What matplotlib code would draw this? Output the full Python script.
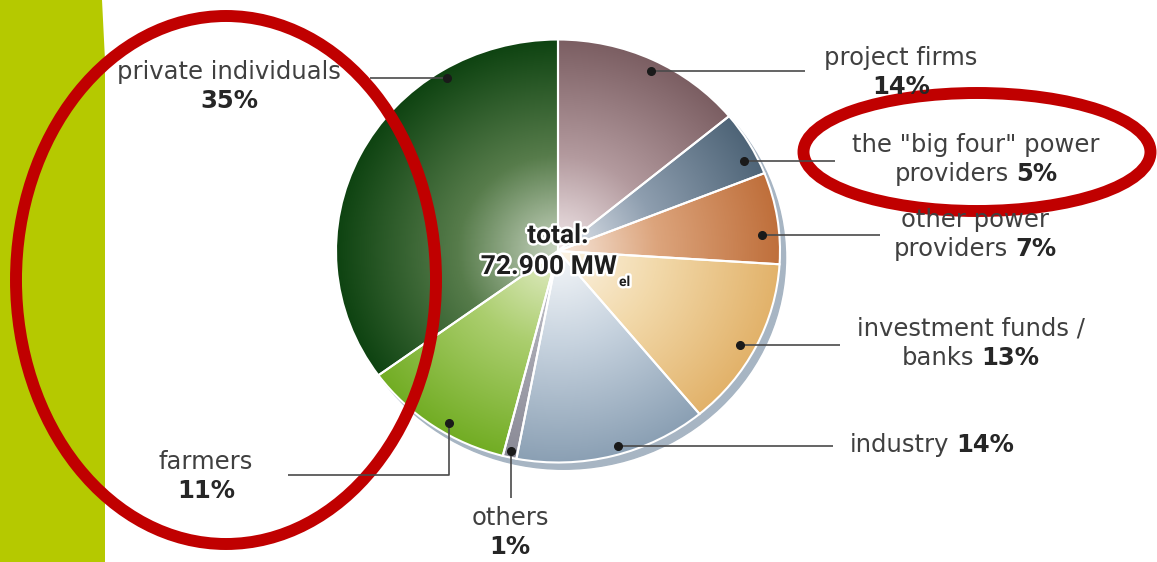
import numpy as np
import matplotlib
matplotlib.use('Agg')
import matplotlib.pyplot as plt
from matplotlib.colors import LinearSegmentedColormap
from matplotlib.patches import Ellipse
import matplotlib.patheffects as pe

plt.rcParams['font.family'] = ['DejaVu Sans']

# data
names = ['project firms', 'the "big four" power\nproviders', 'other power\nproviders',
         'investment funds /\nbanks', 'industry', 'others', 'farmers', 'private individuals']
shares = [14, 5, 7, 13, 14, 1, 11, 35]
pct_own_row = [True, False, False, False, False, True, True, True]
total_text = '72.900 MW'

# gradient colours per slice: centre, middle, rim
grad = [
    ['#f2e8ea', '#b39a9e', '#7b5e62'],
    ['#e6eaf0', '#8e9eaf', '#4e6477'],
    ['#f7e8dc', '#dca47c', '#bf6f3b'],
    ['#fcf4e6', '#f2d9aa', '#e2b26a'],
    ['#f6f8fa', '#c6d2de', '#8ba0b4'],
    ['#d4d4dc', '#a8a8b2', '#8a8a96'],
    ['#e6eecc', '#abce6e', '#72ad24'],
    ['#c8d4c0', '#577c4b', '#0e4311'],
]

fig = plt.figure(figsize=(11.57, 5.62), dpi=100)

# pixel-space axes under and over the pie
ax0 = fig.add_axes([0, 0, 1, 1])
ax0.set_xlim(0, 1157)
ax0.set_ylim(562, 0)
ax0.axis('off')
ax0.fill([0, 102, 105, 105, 0], [0, 0, 60, 562, 562], color='#b5c900', lw=0)

# pie (slightly wider than tall, as in the picture)
W, H = 1157, 562
cx, cy, rx, ry = 558, 251, 222, 211.5
axp = fig.add_axes([(cx - rx) / W, (H - cy - ry) / H, 2 * rx / W, 2 * ry / H])
wedges, _ = axp.pie(shares, startangle=90, counterclock=False, radius=1,
                    wedgeprops=dict(edgecolor='white', linewidth=1.5))
axp.add_patch(Ellipse((0.025, -0.032), 2.0, 2.0, color='#a7b5c3', zorder=0, clip_on=False))

n = 500
xs = np.linspace(-1, 1, n)
X, Y = np.meshgrid(xs, xs)
R = np.sqrt(X ** 2 + Y ** 2)
for w, cols in zip(wedges, grad):
    cmap = LinearSegmentedColormap.from_list('g', [(0, cols[0]), (0.45, cols[1]), (1, cols[2])])
    im = axp.imshow(R, cmap=cmap, vmin=0, vmax=1, extent=(-1, 1, -1, 1), origin='lower',
                    interpolation='bilinear', zorder=1.5)
    im.set_clip_path(w)
    w.set_zorder(2)
    w.set_facecolor('none')
axp.set_aspect('auto')
axp.set_xlim(-1, 1)
axp.set_ylim(-1, 1)
axp.axis('off')

# overlay axes for leaders, labels and marks
ax = fig.add_axes([0, 0, 1, 1])
ax.set_xlim(0, 1157)
ax.set_ylim(562, 0)
ax.axis('off')
ax.patch.set_alpha(0)

# where on each slice the leader dot sits (fraction along the arc, radius)
dot_f = [0.48, 0.3, 0.33, 0.47, 0.54, 0.5, 0.58, 0.25]
dot_r = [0.95, 0.94, 0.92, 0.93, 0.96, 0.97, 0.95, 0.96]
anchors = [(901, 58, 'center'), (976, 145, 'center'), (975, 220, 'center'),
           (971, 329, 'center'), (850, 445, 'left'), (510, 518, 'center'),
           (206, 462, 'center'), (229, 72, 'center')]

fig.canvas.draw()
to_px = lambda p: ax.transData.inverted().transform(axp.transData.transform(p))

FS = 17.5
LC = '#404040'
renderer = fig.canvas.get_renderer()


def text_row(x, y, parts, ha):
    ts = []
    for s, wt in parts:
        ts.append(ax.text(0, y, s, fontsize=FS, fontweight=wt, color=LC if wt == 'normal' else '#262626',
                          va='center', ha='left'))
    gap = 7
    ws = [t.get_window_extent(renderer).width for t in ts]
    tot = sum(ws) + gap * (len(ts) - 1)
    x0 = x - tot / 2 if ha == 'center' else x
    for t, w_ in zip(ts, ws):
        t.set_x(x0)
        x0 += w_ + gap


for i, w in enumerate(wedges):
    a = np.radians(w.theta1 + dot_f[i] * (w.theta2 - w.theta1))
    dx, dy = to_px((dot_r[i] * np.cos(a), dot_r[i] * np.sin(a)))
    if i <= 4:
        ends = [(dx, dy), ([805, 835, 880, 840, 833][i], dy)]
    elif i == 5:
        ends = [(dx, dy), (dx, 498)]
    elif i == 6:
        ends = [(dx, dy), (dx, 475), (288, 475)]
    else:
        ends = [(dx, dy), (370, dy)]
    ex, ey = zip(*ends)
    ax.plot(ex, ey, color='#4a4a4a', lw=1.2, solid_capstyle='butt')
    ax.plot(dx, dy, 'o', color='#1a1a1a', ms=5.5)

    rows = [[(s, 'normal')] for s in names[i].split('\n')]
    pct = (f'{shares[i]}%', 'bold')
    if pct_own_row[i]:
        rows.append([pct])
    else:
        rows[-1].append(pct)
    x, y, ha = anchors[i]
    for k, r in enumerate(rows):
        text_row(x, y + 29 * k, r, ha)

# centre label
halo = [pe.withStroke(linewidth=3.5, foreground='white')]
cf = ['Roboto', 'DejaVu Sans']
ax.text(558, 236, 'total:', fontsize=19, fontweight='bold', color='#1e1e1e', family=cf,
        ha='center', va='center', path_effects=halo)
ax.text(617, 267, total_text, fontsize=19, fontweight='bold', color='#1e1e1e', family=cf,
        ha='right', va='center', path_effects=halo)
ax.text(619, 282, 'el', fontsize=10, fontweight='bold', color='#1e1e1e', family=cf,
        ha='left', va='center', path_effects=halo)

# red highlight ellipses
ax.add_patch(Ellipse((226, 280), 420, 528, fill=False, ec='#c00000', lw=8.6))
ax.add_patch(Ellipse((977, 152), 347, 118, fill=False, ec='#c00000', lw=8.6, clip_on=False))

fig.savefig('out.png', dpi=100)
